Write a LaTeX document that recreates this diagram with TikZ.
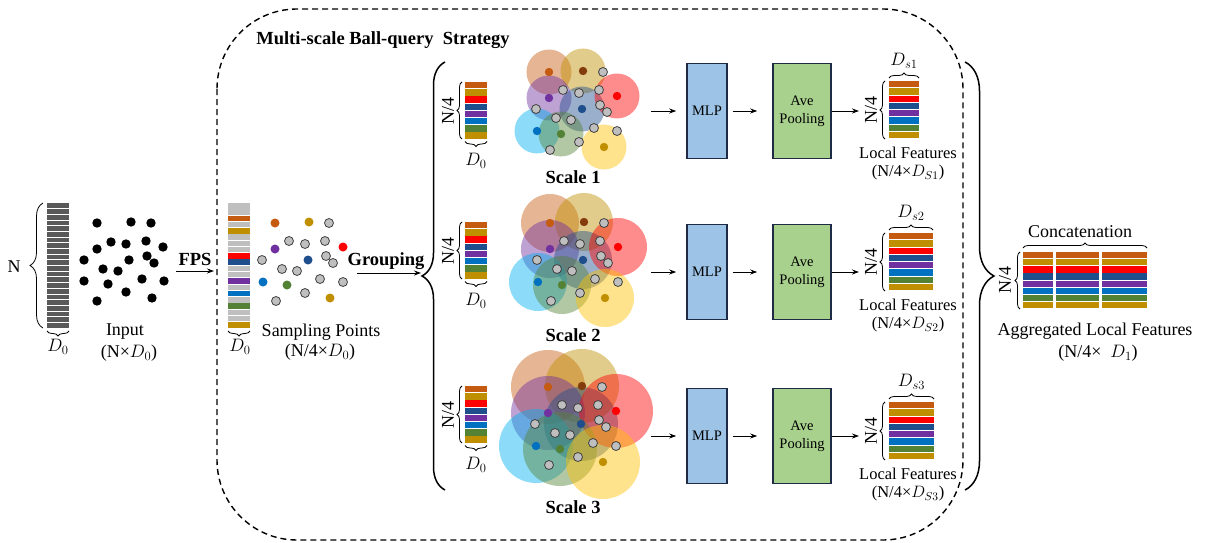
\documentclass[tikz,border=0pt]{standalone}
\usepackage{fix-cm}
\usepackage{fontspec}
\setmainfont{Liberation Serif}
\usetikzlibrary{decorations.pathreplacing,arrows.meta}

\definecolor{cOrange}{HTML}{C55A11}
\definecolor{cGold}{HTML}{BF8F00}
\definecolor{cYellow}{HTML}{FFC000}
\definecolor{cRed}{HTML}{FF0000}
\definecolor{cNavy}{HTML}{1F4E8C}
\definecolor{cPurple}{HTML}{7030A0}
\definecolor{cBlue}{HTML}{0070C0}
\definecolor{cSky}{HTML}{00B0F0}
\definecolor{cGreen}{HTML}{548235}
\definecolor{cBrown}{HTML}{843C0C}
\definecolor{cGray}{HTML}{BFBFBF}
\definecolor{cDark}{HTML}{595959}
\definecolor{mlpFill}{HTML}{9DC3E6}
\definecolor{poolFill}{HTML}{A9D18E}
\definecolor{boxEdge}{HTML}{1F2A44}

\begin{document}
\begin{tikzpicture}[x=1pt, y=-1pt,
    every node/.style={font=\fontsize{18}{21}\selectfont, inner sep=0pt},
    lftxt/.style={font=\fontsize{16.5}{19}\selectfont},
    ttl/.style={font=\bfseries\fontsize{18.5}{22}\selectfont},
    featbrace/.style={decorate, decoration={brace, amplitude=#1}, line width=0.8pt},
    featbrace/.default=5pt,
    bigbrace/.style={decorate, decoration={brace, amplitude=#1}, line width=1.5pt},
    link/.style={-{Stealth[length=7pt, width=5pt]}, line width=0.9pt},
    mlp/.style={draw=boxEdge, line width=1.6pt, fill=mlpFill, minimum width=40pt, minimum height=95pt, font=\fontsize{14.5}{18}\selectfont, align=center},
    pool/.style={mlp, fill=poolFill, minimum width=58pt},
    graypt/.style={fill=cGray, draw=black!75, line width=0.8pt}
    ]
    \useasboundingbox (0,0) rectangle (1210,543);

    % Ball-query frame
    \draw[line width=1.4pt, dash pattern=on 6pt off 4pt, rounded corners=80pt] (217,9) rectangle (963,540);
    \node[ttl] (title) at (383,40) {Multi-scale Ball-query\ \ Strategy};

    % Input points
    \node[fill=cDark, minimum width=22pt, minimum height=125pt] (inp) at (58,265.5) {};
    \foreach \i in {1,...,21}
        \draw[white, line width=0.7pt] (47,203+5.68*\i) -- (69,203+5.68*\i);
    \draw[featbrace=13pt] (43,328) -- (43,203);
    \node (nlab) at (14,267) {N};
    \draw[featbrace] (69,331) -- (47,331);
    \node (ind) at (58,347) {$D_0$};
    \foreach \px/\py in {97/223,131/222,151/223,111/242,126/244,146/241,163/247,97/249,84/260,129/260,147/256,154/263,103/269,118/271,84/281,108/284,142/279,164/281,126/292,97/301,152/298}
        \fill (\px,\py) circle[radius=4.7pt];
    \node (inlab) at (125,332) {Input};
    \node (indim) at (129,353) {(N×$D_0$)};

    % FPS
    \coordinate (fpsS) at (176,271);
    \coordinate (fpsE) at (214,271);
    \draw[link] (fpsS) -- (fpsE);
    \node[ttl] (fps) at (195,259) {FPS};

    % Sampling points
    \foreach \c [count=\i from 0] in {cGray,cGray,cOrange,cGray,cGold,cGray,cGray,cGray,cRed,cNavy,cGray,cGray,cPurple,cGray,cBlue,cGray,cGreen,cGray,cGray,cGold}
        \fill[\c] (228,203+6.27*\i) rectangle ++(22,5.5);
    \draw[featbrace] (250,331) -- (228,331);
    \node (sd) at (240,347) {$D_0$};
    \foreach \px/\py in {329/223,289/241,305/244,325/241,262/260,326/256,333/263,282/269,297/271,320/279,343/282,305/293,276/301}
        \draw[graypt] (\px,\py) circle[radius=4.5pt];
    \foreach \px/\py/\c in {275/223/cOrange,309/222/cGold,275/249/cPurple,308/260/cNavy,343/247/cRed,263/282/cBlue,287/285/cGreen,330/298/cGold}
        \fill[\c] (\px,\py) circle[radius=4.5pt];
    \node (splab) at (321,332) {Sampling Points};
    \node (spdim) at (320,352) {(N/4×$D_0$)};

    % Grouping
    \coordinate (grpS) at (357,273);
    \coordinate (grpE) at (421,273);
    \draw[link] (grpS) -- (grpE);
    \node[ttl] (grp) at (386,261) {Grouping};
    \draw[bigbrace=23pt] (445,490) -- (445,62);

    % Ball query at three scales
    \foreach \dx/\dy/\r/\k/\ly in {274/-151/22.5/1/177, 275/0/29/2/335, 273/164/37/3/507} {
        \begin{scope}[shift={(\dx,\dy)}]
            \foreach \px/\py/\c in {275/223/cOrange,309/222/cGold,275/249/cPurple,308/260/cNavy,343/247/cRed,263/282/cSky,287/285/cGreen,330/298/cYellow}
                \fill[\c, fill opacity=0.45] (\px,\py) circle[radius=\r pt];
            \foreach \px/\py in {329/223,289/241,305/244,325/241,262/260,326/256,333/263,282/269,297/271,320/279,343/282,305/293,276/301}
                \draw[graypt] (\px,\py) circle[radius=4.5pt];
            \foreach \px/\py/\c in {275/223/cOrange,309/222/cBrown,275/249/cPurple,308/260/cNavy,343/247/cRed,263/282/cBlue,287/285/cGreen,330/298/cGold}
                \fill[\c] (\px,\py) circle[radius=4.2pt];
        \end{scope}
        \node[ttl] (sc\k) at (573,\ly) {Scale \k};
    }

    % Grouped features
    \foreach \yy/\k in {82/1, 222/2, 386/3} {
        \foreach \c [count=\i from 0] in {cOrange,cGold,cRed,cNavy,cPurple,cBlue,cGreen,cGold}
            \fill[\c] (465,\yy+7.2*\i) rectangle ++(22,6.3);
        \draw[featbrace] (462,\yy+57) -- (462,\yy);
        \node[rotate=90] (gn\k) at (448,\yy+28.5) {N/4};
        \draw[featbrace] (487,\yy+59.5) -- (465,\yy+59.5);
        \node (gd\k) at (476,\yy+79) {$D_0$};
    }

    % MLP and pooling
    \foreach \yy [count=\k] in {111, 272, 436} {
        \node[mlp] (mlp\k) at (707,\yy) {MLP};
        \node[pool] (pool\k) at (802,\yy) {Ave\\Pooling};
        \coordinate (in\k) at (651,\yy);
        \coordinate (out\k) at (859,\yy);
        \draw[link, shorten >=10pt] (in\k) -- (mlp\k);
        \draw[link, shorten <=5pt, shorten >=15pt] (mlp\k) -- (pool\k);
        \draw[link] (pool\k) -- (out\k);
    }

    % Local features
    \foreach \yy/\w/\k in {81/30/1, 233/44/2, 402/45/3} {
        \foreach \c [count=\i from 0] in {cOrange,cGold,cRed,cNavy,cPurple,cBlue,cGreen,cGold}
            \fill[\c] (889,\yy+7.25*\i) rectangle ++(\w,6.4);
        \draw[featbrace] (885,\yy+58) -- (885,\yy);
        \node[rotate=90] (ln\k) at (871,\yy+29) {N/4};
        \draw[featbrace] (889,\yy-3) -- (889+\w,\yy-3);
        \node (ld\k) at (889+\w/2,\yy-20) {$D_{s\k}$};
        \node[lftxt] (lft\k) at (908,\yy+72) {Local Features};
        \node[lftxt] (lfd\k) at (908,\yy+92) {(N/4×$D_{S\k}$)};
    }

    % Concatenation
    \draw[bigbrace=29pt] (965,62) -- (965,490);
    \foreach \xa/\w in {1023/30, 1056/43, 1102/45}
        \foreach \c [count=\i from 0] in {cOrange,cGold,cRed,cNavy,cPurple,cBlue,cGreen,cGold}
            \fill[\c] (\xa,252+7.15*\i) rectangle ++(\w,6.3);
    \draw[featbrace] (1020,309) -- (1020,252);
    \node[rotate=90] (an) at (1005,280) {N/4};
    \draw[featbrace] (1023,248) -- (1147,248);
    \node (concat) at (1080,232) {Concatenation};
    \node (agg) at (1095,331) {Aggregated Local Features};
    \node (aggd) at (1098,353) {(N/4×\ \ $D_1$)};

\end{tikzpicture}
\end{document}
